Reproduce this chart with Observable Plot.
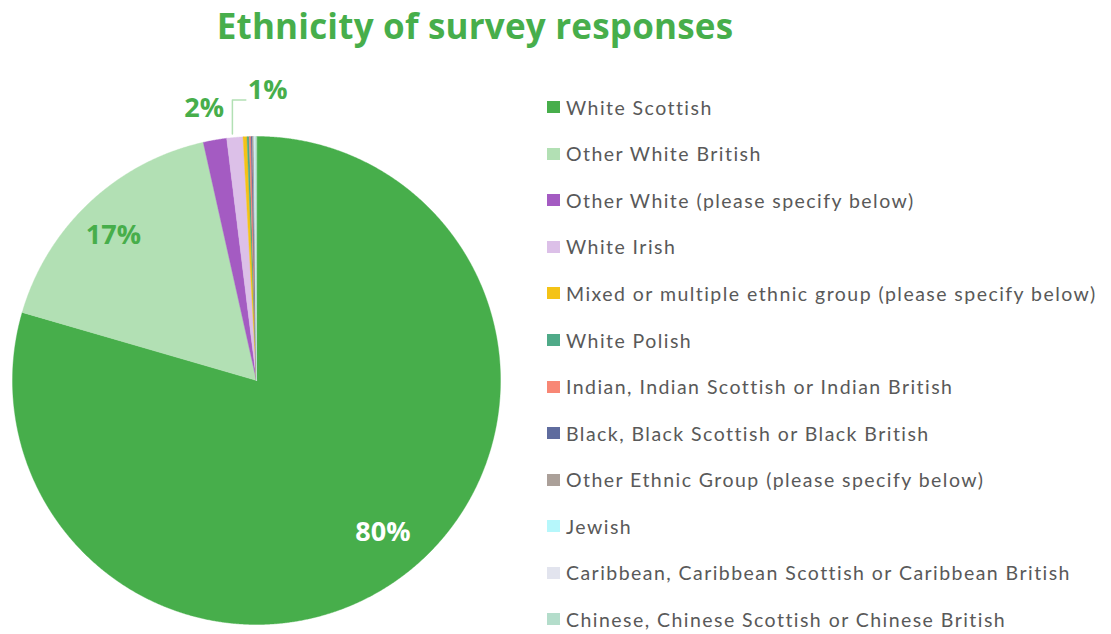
<!DOCTYPE html>
<html>
<head>
<meta charset="utf-8">
<script src="https://cdn.jsdelivr.net/npm/d3@7"></script>
<script src="https://cdn.jsdelivr.net/npm/@observablehq/plot@0.6"></script>
<style>
  html, body { margin: 0; padding: 0; background: #fff; }
  #wrap { position: relative; width: 1111px; height: 634px; overflow: hidden; }
  #title { position: absolute; left: 0; width: 950px; top: 2px; text-align: center;
    font-family: "Open Sans", sans-serif; font-weight: 700; font-size: 35px; color: #47ae4b; line-height: 48px; letter-spacing: 0.2px; }
  #chart { position: absolute; left: 0; top: 60px; }
  #legend { position: absolute; left: 547px; top: 84px; font-family: Lato, sans-serif; font-size: 19.5px; color: #595959; letter-spacing: 1.45px; }
  .item { display: flex; align-items: center; height: 46.55px; white-space: nowrap; }
  .sw { width: 13px; height: 12px; margin-right: 6px; flex: none; }
</style>
</head>
<body>
<div id="wrap">
  <div id="title">Ethnicity of survey responses</div>
  <div id="chart"></div>
  <div id="legend"></div>
</div>
<script>
const categories = [
  "White Scottish",
  "Other White British",
  "Other White (please specify below)",
  "White Irish",
  "Mixed or multiple ethnic group (please specify below)",
  "White Polish",
  "Indian, Indian Scottish or Indian British",
  "Black, Black Scottish or Black British",
  "Other Ethnic Group (please specify below)",
  "Jewish",
  "Caribbean, Caribbean Scottish or Caribbean British",
  "Chinese, Chinese Scottish or Chinese British"
];
const shares = [79.5, 17.0, 1.55, 1.07, 0.26, 0.14, 0.12, 0.08, 0.10, 0.06, 0.06, 0.06];
const colors = ["#47ae4b", "#b2e0b4", "#a45bc2", "#dcc0e8", "#f4c316", "#4faa88",
  "#f88775", "#5f6c9e", "#aba099", "#b6f7fb", "#e2e4ee", "#b4ddcb"];
const labelled = ["White Scottish", "Other White British", "Other White (please specify below)", "White Irish"];

// Build slice outlines from the data (angles clockwise from 12 o'clock)
const total = d3.sum(shares);
let cum = 0;
const slices = categories.map((name, i) => {
  const a0 = cum / total * 2 * Math.PI;
  cum += shares[i];
  const a1 = cum / total * 2 * Math.PI;
  return {name, value: shares[i], a0, a1, mid: (a0 + a1) / 2};
});
const pts = [];
for (const s of slices) {
  pts.push({name: s.name, x: 0, y: 0});
  const n = Math.max(2, Math.ceil((s.a1 - s.a0) / (Math.PI / 720)));
  for (let k = 0; k <= n; k++) {
    const a = s.a0 + (s.a1 - s.a0) * k / n;
    pts.push({name: s.name, x: Math.sin(a), y: Math.cos(a)});
  }
}

// Labels
const lab = slices.filter(s => labelled.includes(s.name)).map((s, i) => {
  const r = i < 2 ? 0.815 : 1.14;
  return {name: s.name, text: Math.round(s.value / total * 100) + "%", x: Math.sin(s.mid) * r, y: Math.cos(s.mid) * r, i};
});
const big = lab.filter(d => d.i === 0);
const second = lab.filter(d => d.i === 1);
const outsideA = lab.filter(d => d.i === 2);
// leader label (White Irish)
const wi = slices.find(s => s.name === "White Irish");
const p0 = {x: Math.sin(wi.mid) * 1.0, y: Math.cos(wi.mid) * 1.0};
const leader = [
  {x: p0.x - 0.01, y: 1.01},
  {x: p0.x - 0.01, y: 1.15},
  {x: p0.x + 0.045, y: 1.15}
];
const leaderLabel = [{text: lab.find(d => d.name === "White Irish").text, x: p0.x + 0.053, y: 1.19}];

const R = 244, cx = 256, cy = 320;
const font = {fontSize: 27, fontWeight: 700, fontFamily: "Open Sans"};
const plot = Plot.plot({
  width: 540, height: 574, margin: 0,
  x: {domain: [-1, 1], range: [cx - R, cx + R], axis: null},
  y: {domain: [-1, 1], range: [cy + R, cy - R], axis: null},
  color: {domain: categories, range: colors},
  marks: [
    Plot.line(pts, {x: "x", y: "y", z: "name", fill: "name", stroke: "name", strokeWidth: 0.4, curve: "linear-closed"}),
    Plot.line(leader, {x: "x", y: "y", stroke: "#b2e0b4", strokeWidth: 1.5}),
    Plot.text(big, {x: "x", y: "y", text: "text", fill: "#ffffff", dx: 7, dy: -7, ...font}),
    Plot.text(second, {x: "x", y: "y", text: "text", fill: "#47ae4b", dx: -7, ...font}),
    Plot.text(outsideA, {x: "x", y: "y", text: "text", fill: "#47ae4b", dx: -5, dy: 2, ...font}),
    Plot.text(leaderLabel, {x: "x", y: "y", text: "text", fill: "#47ae4b", textAnchor: "start", ...font})
  ]
});
document.getElementById("chart").appendChild(plot);

const legend = document.getElementById("legend");
categories.forEach((c, i) => {
  const row = document.createElement("div");
  row.className = "item";
  const sw = document.createElement("span");
  sw.className = "sw";
  sw.style.background = colors[i];
  const t = document.createElement("span");
  t.textContent = c;
  row.appendChild(sw); row.appendChild(t);
  legend.appendChild(row);
});
</script>
</body>
</html>
